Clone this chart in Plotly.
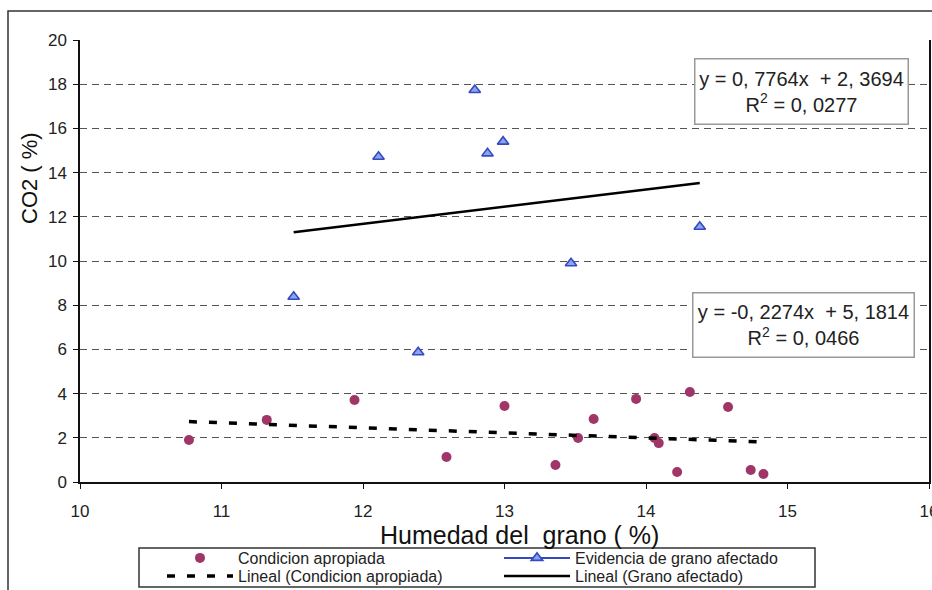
import plotly.graph_objects as go

# ---------------- data ----------------
cond_x = [10.77, 11.32, 11.94, 12.59, 13.00, 13.36, 13.52, 13.63, 13.93, 14.06, 14.09, 14.22, 14.31, 14.58, 14.74, 14.83]
cond_y = [1.90, 2.81, 3.71, 1.13, 3.44, 0.77, 1.99, 2.85, 3.76, 1.99, 1.76, 0.45, 4.07, 3.39, 0.54, 0.36]

graf_x = [11.51, 12.11, 12.39, 12.79, 12.88, 12.99, 13.47, 14.38]
graf_y = [8.38, 14.72, 5.87, 17.74, 14.87, 15.40, 9.90, 11.55]

# trend line coefficients (as printed on the chart)
cond_slope, cond_icpt = -0.2274, 5.1814
graf_slope, graf_icpt = 0.7764, 2.3694

eq_graf = "y = 0, 7764x  + 2, 3694<br>R<sup>2</sup> = 0, 0277"
eq_cond = "y = -0, 2274x  + 5, 1814<br>R<sup>2</sup> = 0, 0466"

x_ticks = [10, 11, 12, 13, 14, 15, 16]
y_ticks = [0, 2, 4, 6, 8, 10, 12, 14, 16, 18, 20]

name_cond = "Condicion apropiada"
name_graf = "Evidencia de grano afectado"
name_lin_cond = "Lineal (Condicion apropiada)"
name_lin_graf = "Lineal (Grano afectado)"

# trend line end points from the fitted coefficients
cond_tx = [min(cond_x), max(cond_x)]
cond_ty = [cond_slope * v + cond_icpt for v in cond_tx]
graf_tx = [min(graf_x), max(graf_x)]
graf_ty = [graf_slope * v + graf_icpt for v in graf_tx]

FONT = "Liberation Sans, Arial, sans-serif"
PURPLE = "#a03668"
BLUE_LINE = "#3848c0"
BLUE_FILL = "#86a6ee"
TRI = dict(symbol="triangle-up", size=10, color=BLUE_FILL,
           line=dict(width=1.6, color=BLUE_LINE))

fig = go.Figure()

fig.add_trace(go.Scatter(
    x=cond_x, y=cond_y, mode="markers", name=name_cond, legend="legend",
    marker=dict(symbol="circle", size=10, color=PURPLE, line=dict(width=0)),
))
# actual triangle points (legend entry drawn by proxy below)
fig.add_trace(go.Scatter(
    x=graf_x, y=graf_y, mode="markers", name=name_graf, showlegend=False,
    marker=TRI,
))
fig.add_trace(go.Scatter(
    x=[None], y=[None], mode="lines+markers", name=name_graf, legend="legend",
    line=dict(color=BLUE_LINE, width=2), marker=TRI,
))
fig.add_trace(go.Scatter(
    x=cond_tx, y=cond_ty, mode="lines", name=name_lin_cond, legend="legend2",
    line=dict(color="black", width=3.5, dash="8px,12px"),
))
fig.add_trace(go.Scatter(
    x=graf_tx, y=graf_ty, mode="lines", name=name_lin_graf, legend="legend2",
    line=dict(color="black", width=2.5),
))

W, H = 932, 590
L, R, T, B = 80, 3, 40, 108
PW, PH = W - L - R, H - T - B


def px_x(p):
    return (p - L) / PW


def px_y(p):
    return (H - B - p) / PH


LEG = dict(
    orientation="h", xanchor="left", yanchor="middle",
    bgcolor="rgba(0,0,0,0)", borderwidth=0,
    itemwidth=66, entrywidth=256, entrywidthmode="pixels",
    font=dict(family=FONT, size=16, color="#222"),
    traceorder="normal", itemclick=False, itemdoubleclick=False,
)

fig.update_layout(
    width=W, height=H,
    margin=dict(l=L, r=R, t=T, b=B, autoexpand=False),
    paper_bgcolor="white", plot_bgcolor="white",
    font=dict(family=FONT, size=16, color="#222"),
    showlegend=True,
    legend=dict(LEG, x=px_x(162), y=px_y(558)),
    legend2=dict(LEG, x=px_x(162), y=px_y(576)),
    xaxis=dict(
        range=[10, 16], tickvals=x_ticks, ticktext=[str(v) for v in x_ticks],
        showgrid=False, zeroline=False,
        showline=True, linecolor="#111", linewidth=1.5, mirror=False,
        ticks="outside", ticklen=5, tickcolor="#111", tickwidth=1.2,
        tickfont=dict(family=FONT, size=17, color="#222"),
        ticklabelstandoff=8, ticklabeloverflow="allow",
    ),
    yaxis=dict(
        range=[0, 20], tickvals=y_ticks, ticktext=[str(v) for v in y_ticks],
        showgrid=True, gridcolor="#555", gridwidth=1.2, griddash="7px,5px",
        zeroline=False,
        showline=True, linecolor="#111", linewidth=1.5, mirror=True,
        ticks="outside", ticklen=5, tickcolor="#111", tickwidth=1.2,
        tickfont=dict(family=FONT, size=17, color="#222"),
        ticklabelstandoff=3,
    ),
    shapes=[
        # outer chart frame
        dict(type="rect", xref="paper", yref="paper",
             x0=px_x(8), x1=px_x(950), y0=px_y(11), y1=px_y(620),
             line=dict(color="#333", width=1.5), layer="below"),
        # legend frame
        dict(type="rect", xref="paper", yref="paper",
             x0=px_x(139), x1=px_x(815), y0=px_y(548), y1=px_y(587),
             line=dict(color="#333", width=1.5)),
    ],
    annotations=[
        dict(text=eq_graf, xref="paper", yref="paper",
             x=px_x(801), y=px_y(91), xanchor="center", yanchor="middle",
             showarrow=False, align="center", width=210, height=62,
             bgcolor="white", bordercolor="#999", borderwidth=1.5, borderpad=1,
             font=dict(family=FONT, size=20, color="#222")),
        dict(text=eq_cond, xref="paper", yref="paper",
             x=px_x(803), y=px_y(325.5), xanchor="center", yanchor="middle",
             showarrow=False, align="center", width=218, height=61,
             bgcolor="white", bordercolor="#999", borderwidth=1.5, borderpad=1,
             font=dict(family=FONT, size=20, color="#222")),
        dict(text="CO2 ( %)", xref="paper", yref="paper",
             x=px_x(29), y=px_y(178), xanchor="center", yanchor="middle",
             textangle=-90, showarrow=False,
             font=dict(family=FONT, size=22, color="#111")),
        dict(text="Humedad del  grano ( %)", xref="paper", yref="paper",
             x=px_x(519), y=px_y(535), xanchor="center", yanchor="middle",
             showarrow=False,
             font=dict(family=FONT, size=25, color="#111")),
    ],
)

fig.write_html(
    "out.html",
    config={"displayModeBar": False},
    post_script="document.body.style.margin='0px';document.body.style.overflow='hidden';",
)
